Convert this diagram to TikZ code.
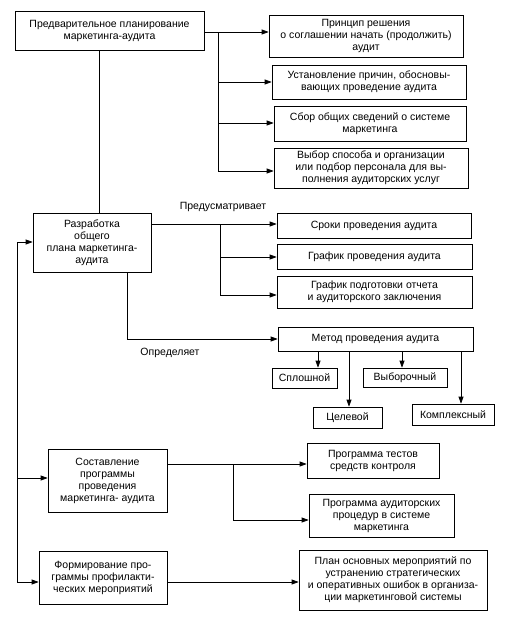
\documentclass[tikz,border=0pt]{standalone}
\usepackage{fontspec}
\setmainfont{Liberation Sans}
\usetikzlibrary{arrows.meta}
\begin{document}
\begin{tikzpicture}[x=1pt,y=-1pt,
  box/.style={draw, line width=0.7pt, align=center, inner sep=0pt, font=\fontsize{10.5}{12}\selectfont},
  lbl/.style={inner sep=0pt, font=\fontsize{10.5}{12}\selectfont},
  ln/.style={line width=0.7pt},
  arr/.style={line width=0.7pt, -{Triangle[length=7pt,width=5pt]}}]
\useasboundingbox (0,0) rectangle (505,618);
% boxes
\node[box, minimum width=189pt, minimum height=39pt] (pre) at (109.5,30.5) {Предварительное планирование\\маркетинга-аудита};
\node[box, minimum width=194pt, minimum height=42pt] (r1) at (366,36) {Принцип решения\\о соглашении начать (продолжить)\\аудит};
\node[box, minimum width=194pt, minimum height=34pt] (r2) at (369,82) {Установление причин, обосновы-\\вающих проведение аудита};
\node[box, minimum width=192pt, minimum height=35pt] (r3) at (370,123.5) {Сбор общих сведений о системе\\маркетинга};
\node[box, minimum width=194pt, minimum height=40pt] (r4) at (371,168) {Выбор способа и организации\\или подбор персонала для вы-\\полнения аудиторских услуг};
\node[box, minimum width=118pt, minimum height=59pt] (dev) at (92,242.5) {Разработка\\общего\\плана маркетинга-\\аудита};
\node[box, minimum width=194pt, minimum height=25pt] (m1) at (374,225.5) {Сроки проведения аудита};
\node[box, minimum width=195pt, minimum height=25pt] (m2) at (374.5,256.5) {График проведения аудита};
\node[box, minimum width=195pt, minimum height=32pt] (m3) at (374.5,292) {График подготовки отчета\\и аудиторского заключения};
\node[box, minimum width=195pt, minimum height=24pt] (met) at (375.5,339) {Метод проведения аудита};
\node[box, minimum width=65pt, minimum height=20pt] (spl) at (304.5,378) {Сплошной};
\node[box, minimum width=84pt, minimum height=19pt] (vyb) at (405,377.5) {Выборочный};
\node[box, minimum width=69pt, minimum height=21pt] (cel) at (347.5,417.5) {Целевой};
\node[box, minimum width=82pt, minimum height=21pt] (kom) at (453,414.5) {Комплексный};
\node[box, minimum width=119pt, minimum height=63pt] (sost) at (107.5,480.5) {Составление\\программы\\проведения\\маркетинга- аудита};
\node[box, minimum width=128pt, minimum height=53pt] (form) at (103,577.5) {Формирование про-\\граммы профилакти-\\ческих мероприятий};
\node[box, minimum width=132pt, minimum height=35pt] (p1) at (373,460.5) {Программа тестов\\средств контроля};
\node[box, minimum width=145pt, minimum height=43pt] (p2) at (381.5,515.5) {Программа аудиторских\\процедур в системе\\маркетинга};
\node[box, minimum width=188pt, minimum height=60pt] (p3) at (393,580) {План основных мероприятий по\\устранению стратегических\\и оперативных ошибок в организа-\\ции маркетинговой системы};
% labels
\node[lbl] (lp) at (223,207) {Предусматривает};
\node[lbl] (lo) at (170,353) {Определяет};
% coordinates
\coordinate (a1) at (218,32);
\coordinate (a2) at (218,82);
\coordinate (a3) at (218,123);
\coordinate (a4) at (218,171);
\coordinate (b1) at (220,224);
\coordinate (b2) at (220,257);
\coordinate (b3) at (220,295);
\coordinate (c1) at (127,339);
\coordinate (f0) at (17,242);
\coordinate (f1) at (17,478);
\coordinate (f2) at (17,582);
\coordinate (s1) at (233,464);
\coordinate (s2) at (233,520);
% top connectors
\draw[ln] (pre.south -| 99,0) -- (dev.north -| 99,0);
\draw[ln] (pre.east |- a1) -- (a1) -- (a4);
\draw[arr] (a1) -- (a1 -| r1.west);
\draw[arr] (a2) -- (a2 -| r2.west);
\draw[arr] (a3) -- (a3 -| r3.west);
\draw[arr] (a4) -- (a4 -| r4.west);
% development connectors
\draw[arr] (dev.east |- b1) -- (b1 -| m1.west);
\draw[ln] (b1) -- (b3);
\draw[arr] (b2) -- (b2 -| m2.west);
\draw[arr] (b3) -- (b3 -| m3.west);
\draw[ln] (dev.south -| c1) -- (c1);
\draw[arr] (c1) -- (c1 -| met.west);
% method children
\draw[arr] (met.south -| 318,0) -- (spl.north -| 318,0);
\draw[arr] (met.south -| 349,0) -- (cel.north -| 349,0);
\draw[arr] (met.south -| 402,0) -- (vyb.north -| 402,0);
\draw[arr] (met.south -| 461,0) -- (kom.north -| 461,0);
% feedback
\draw[ln] (f0) -- (f2);
\draw[arr] (f0) -- (f0 -| dev.west);
\draw[arr] (f1) -- (f1 -| sost.west);
\draw[arr] (f2) -- (f2 -| form.west);
% programme connectors
\draw[arr] (sost.east |- s1) -- (s1 -| p1.west);
\draw[ln] (s1) -- (s2);
\draw[arr] (s2) -- (s2 -| p2.west);
\draw[arr] (form.east |- f2) -- (f2 -| p3.west);
\end{tikzpicture}
\end{document}
